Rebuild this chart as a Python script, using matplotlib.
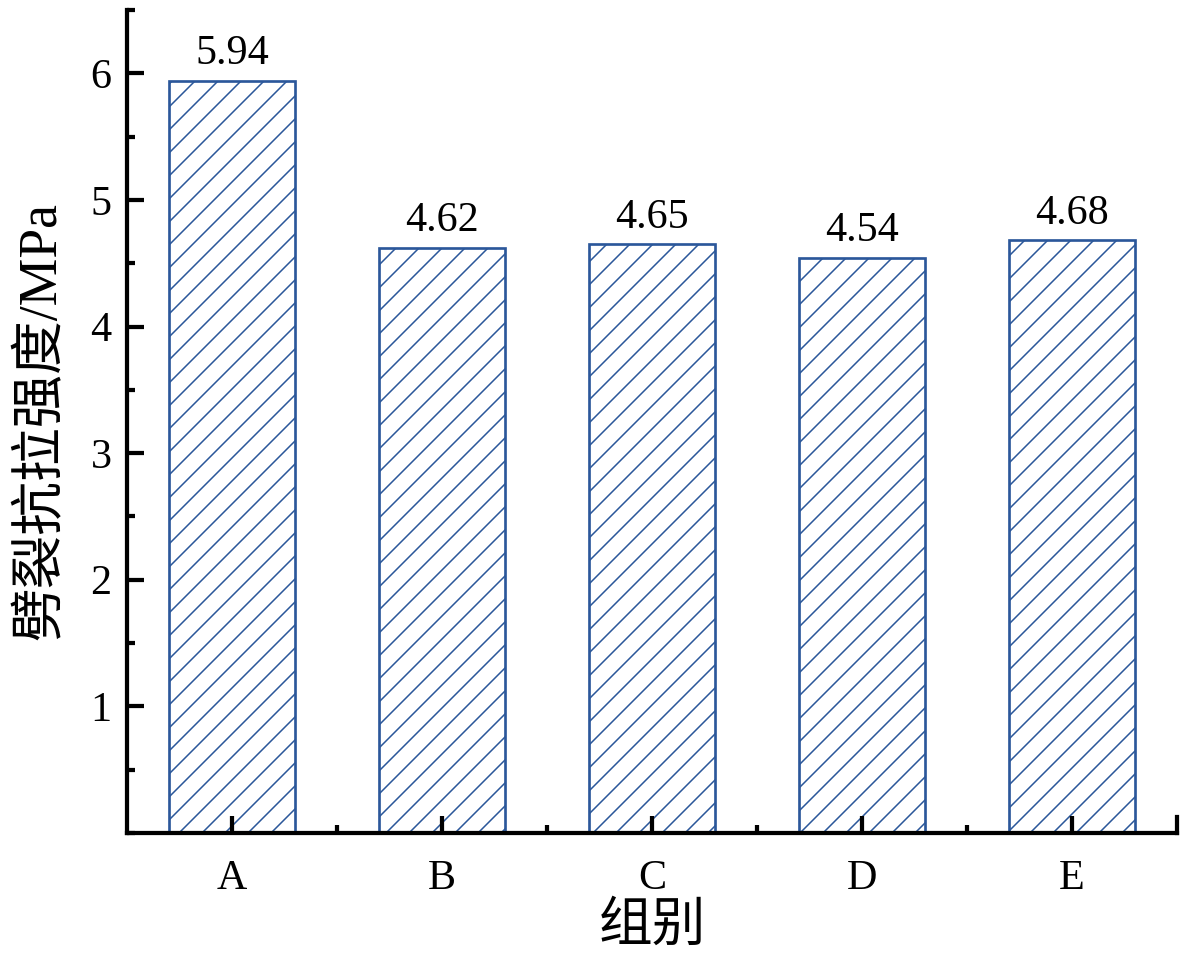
import matplotlib
matplotlib.use("Agg")
import matplotlib.pyplot as plt
import numpy as np
from matplotlib.ticker import MultipleLocator, FixedLocator

groups = ['A', 'B', 'C', 'D', 'E']
strength = [5.94, 4.62, 4.65, 4.54, 4.68]
y_ticks = [1, 2, 3, 4, 5, 6]

fonts = ['Liberation Serif', 'Noto Sans CJK SC']
plt.rcParams['font.family'] = fonts
plt.rcParams['hatch.linewidth'] = 0.8
plt.rcParams['hatch.color'] = '#2b579a'

dpi = 138
fig = plt.figure(figsize=(1181 / dpi, 968 / dpi), dpi=dpi)
ax = fig.add_axes([0.1075, 0.1395, 0.889, 0.8502])

x = np.arange(len(groups))
bars = ax.bar(x, strength, width=0.6, facecolor='white', edgecolor='#2b579a',
              linewidth=1.4, hatch='//')

for xi, v in zip(x, strength):
    ax.annotate(f"{v:.2f}", (xi, v), xytext=(0, 4), textcoords='offset points',
                ha='center', va='bottom', fontsize=22)

ax.set_xlim(-0.5, 4.5)
ax.set_ylim(0, 6.5)
ax.set_yticks(y_ticks)
ax.yaxis.set_minor_locator(MultipleLocator(0.5))
ax.set_xticks(x)
ax.set_xticklabels(groups)
ax.xaxis.set_minor_locator(FixedLocator([0.5, 1.5, 2.5, 3.5]))

ax.spines['top'].set_visible(False)
ax.spines['right'].set_visible(False)
for s in ['left', 'bottom']:
    ax.spines[s].set_linewidth(2.2)

ax.tick_params(axis='both', which='major', direction='in', length=9, width=2.2,
               labelsize=22)
ax.tick_params(axis='both', which='minor', direction='in', length=4, width=2.2)
ax.tick_params(axis='x', which='major', pad=14)
ax.tick_params(axis='y', which='major', pad=8)

# end cap on right of x axis
ax.plot([4.5, 4.5], [0, 0.13], color='black', lw=2.2, clip_on=False)

ax.set_xlabel('组别', fontsize=28, labelpad=2)
ax.set_ylabel('劈裂抗拉强度/MPa', fontsize=28, labelpad=12)

fig.savefig('out.png', dpi=dpi)
